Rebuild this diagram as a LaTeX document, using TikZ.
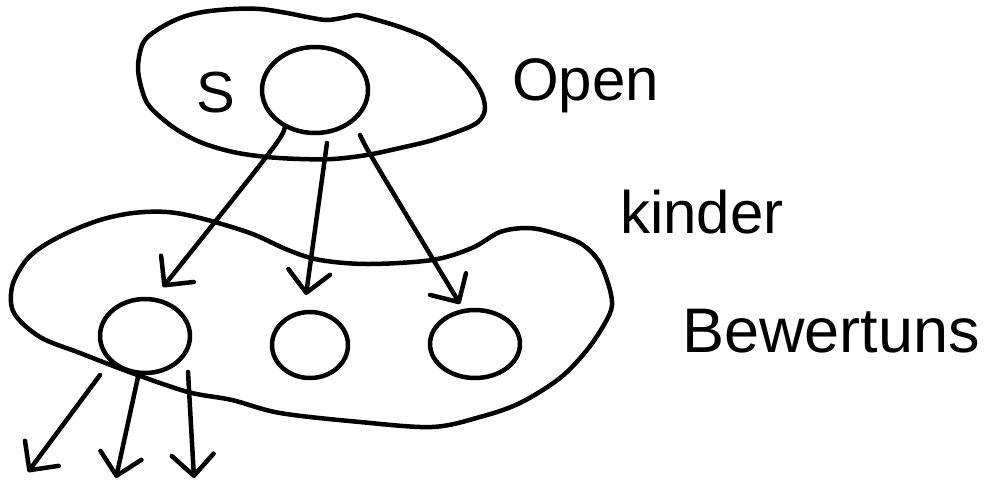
\documentclass[tikz,border=0pt]{standalone}
\usepackage{fontspec}
\setmainfont{Liberation Sans}
\usetikzlibrary{arrows.meta,shapes.geometric}
\begin{document}
\begin{tikzpicture}[x=1pt,y=-1pt,
  pen/.style={line width=4.5pt,line cap=round,line join=round},
  circ/.style={draw,pen,ellipse,inner sep=0pt},
  arr/.style={pen,-{Straight Barb[length=21pt,width=42pt,line cap=round,line join=round]}},
  lbl/.style={anchor=base west,inner sep=0pt}]
\useasboundingbox (0,0) rectangle (997,483);
% top set (Open)
\draw[pen] plot[smooth cycle,tension=0.55] coordinates {
 (143,43) (157,30) (180,18) (203,12) (233,9) (260,9) (287,13) (307,17) (327,20)
 (347,17) (357,15) (370,18) (400,27) (427,38) (443,50) (463,67) (480,90) (485,108)
 (480,120) (467,128) (433,140) (400,148) (367,155) (333,159) (300,159) (267,157)
 (233,152) (200,142) (173,127) (150,107) (142,90) (138,67)};
% bottom set (Kinder)
\draw[pen] plot[smooth cycle,tension=0.55] coordinates {
 (12,287) (24,263) (40,248) (67,233) (100,220) (133,213) (167,212) (200,218)
 (250,233) (288,250) (320,260) (368,264) (432,260) (472,248) (500,232) (527,228)
 (550,232) (580,243) (598,260) (608,283) (612,305) (605,323) (587,350) (560,378)
 (520,403) (480,417) (432,427) (360,422) (280,413) (232,400) (188,392) (132,373)
 (80,353) (40,337) (14,313)};
% nodes
\node[circ,minimum width=106pt,minimum height=86pt] (top) at (315,90) {};
\node[circ,minimum width=90pt,minimum height=74pt] (c1) at (145,336) {};
\node[circ,minimum width=76pt,minimum height=66pt] (c2) at (310,345) {};
\node[circ,minimum width=90pt,minimum height=68pt] (c3) at (475,344) {};
% labels
\node[lbl,font=\fontsize{58}{58}\selectfont] (s) at (196,112) {S};
\node[lbl,font=\fontsize{60}{60}\selectfont] (open) at (512,100) {Open};
\node[lbl,font=\fontsize{60}{60}\selectfont] (kinder) at (620,233) {kinder};
\node[lbl,font=\fontsize{63}{63}\selectfont] (bew) at (682,352) {Bewertuns};
% connector end points
\coordinate (a1s) at (285,127);
\coordinate (a2s) at (327,143);
\coordinate (a3s) at (360,135);
\coordinate (t1) at (163,287);
\coordinate (t2) at (306,295);
\coordinate (t3) at (460,304);
\coordinate (b1s) at (100,375);
\coordinate (b2s) at (138,377);
\coordinate (b3s) at (188,372);
\coordinate (u1) at (28,472);
\coordinate (u2) at (116,478);
\coordinate (u3) at (194,478);
% arrows
\draw[arr] (a1s) .. controls (282,138) .. (t1);
\draw[arr] (a2s) -- (t2);
\draw[arr] (a3s) .. controls (366,148) .. (t3);
\draw[arr] (b1s) -- (u1);
\draw[arr] (b2s) -- (u2);
\draw[arr] (b3s) -- (u3);
\end{tikzpicture}
\end{document}
